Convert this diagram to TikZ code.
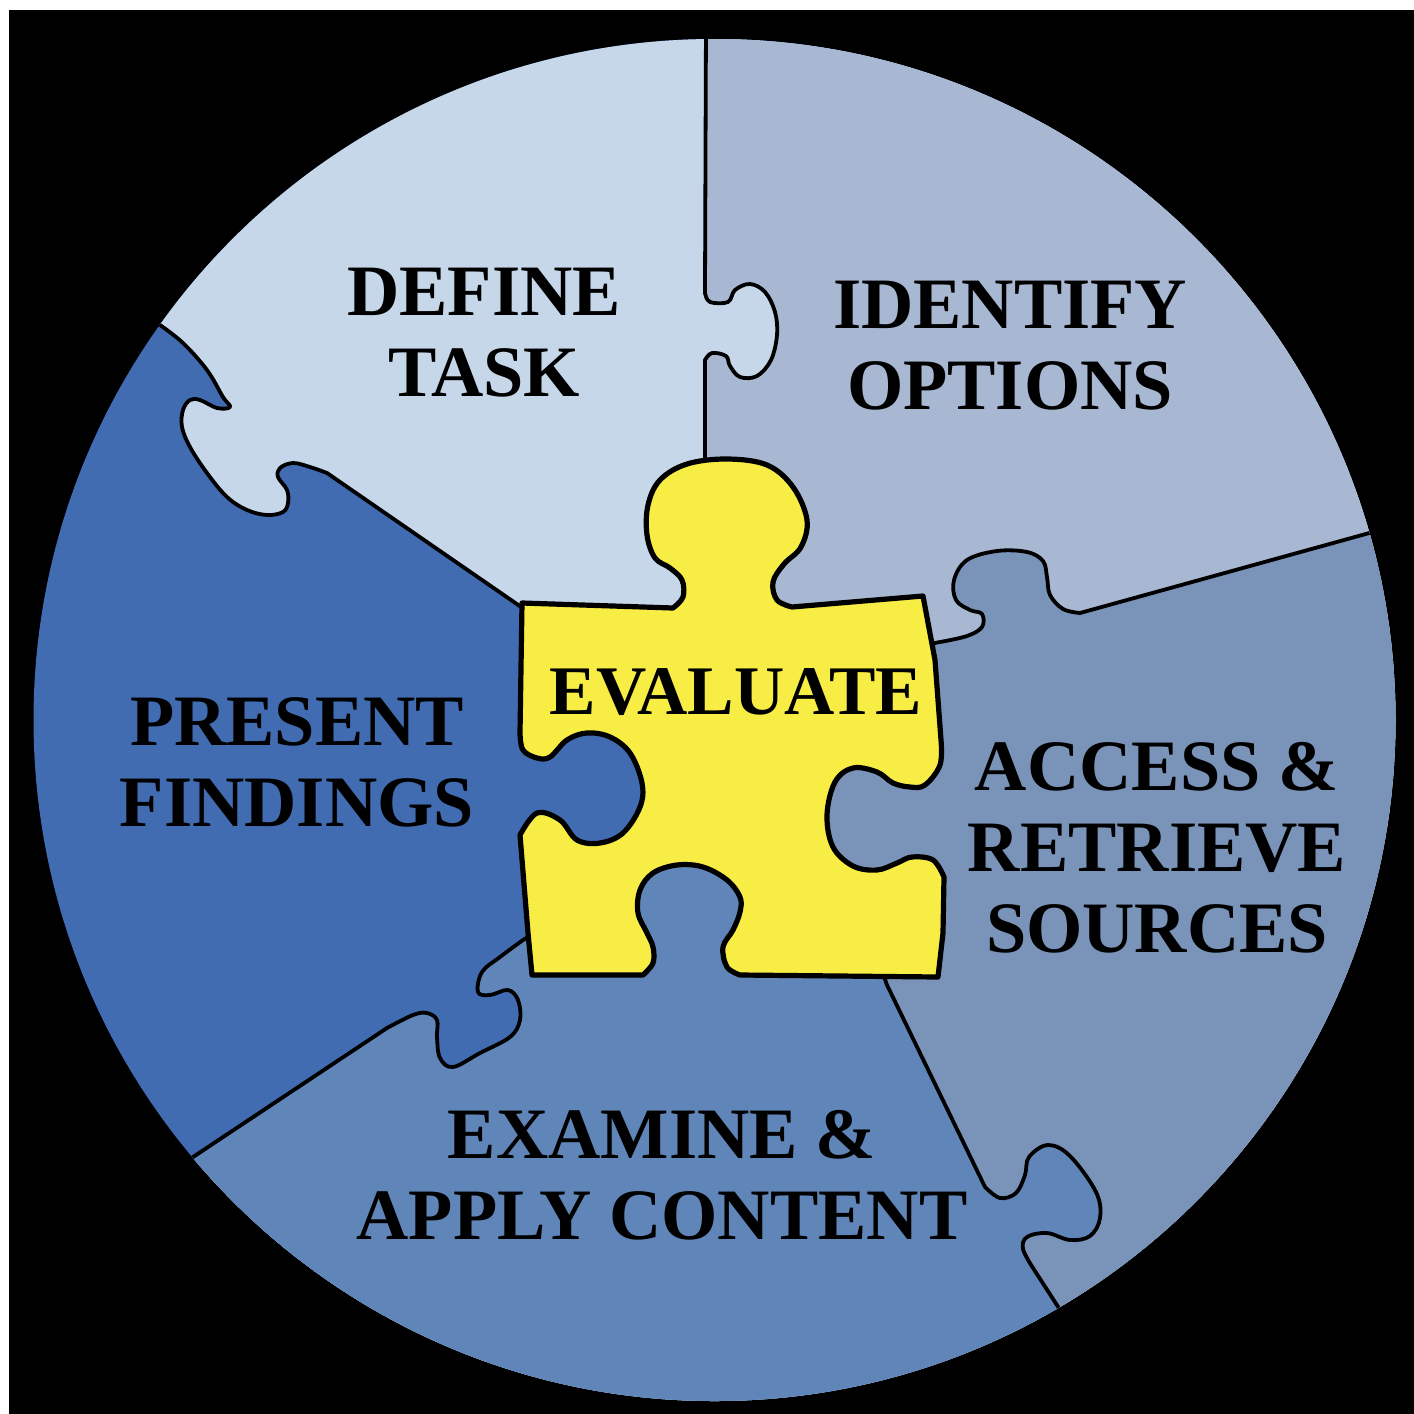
\documentclass[tikz,border=0pt]{standalone}
\usepackage{fontspec}
\setmainfont{Liberation Serif}

\definecolor{definecol}{HTML}{C6D7EA}
\definecolor{identifycol}{HTML}{A8B8D2}
\definecolor{accesscol}{HTML}{7A93B9}
\definecolor{examinecol}{HTML}{6085B8}
\definecolor{presentcol}{HTML}{416CB2}
\definecolor{evalcol}{HTML}{F8ED45}

% seams between the pieces (outer end first, EP inner end first)
\newcommand{\seamPD}{(140,309) -- plot[smooth,tension=0.6] coordinates {(160,325) (183,343) (207,370) (223,397) (230,407) (217,408) (200,400) (190,400) (183,410) (182,427) (190,447) (207,473) (227,497) (247,510) (267,515) (283,512) (288,503) (287,490) (278,477) (280,468) (293,463) (310,467) (327,473)} -- (540,620)}
\newcommand{\seamDI}{(706,20) -- (705,290) -- plot[smooth,tension=0.6] coordinates {(705,293) (710,302) (728,302) (735,290) (750,284) (765,292) (775,312) (777,335) (771,360) (757,376) (740,377) (730,366) (726,356) (712,353) (705,360)} -- (705,470)}
\newcommand{\seamIA}{(1420,519) -- plot[smooth,tension=0.6] coordinates {(1080,613) (1063,609) (1050,595) (1047,577) (1043,561) (1027,552) (997,551) (967,560) (954,580) (956,600) (970,610) (982,614) (982,627) (967,636) (940,642)} -- (925,645)}
\newcommand{\seamAE}{(1075,1333) -- plot[smooth,tension=0.6] coordinates {(1033,1268) (1023,1249) (1027,1237) (1047,1233) (1070,1240) (1090,1236) (1100,1218) (1096,1192) (1070,1156) (1048,1145) (1029,1157) (1025,1175) (1016,1193) (1000,1198) (985,1187)} -- (887,985) -- (880,965)}
\newcommand{\seamEP}{(540,930) -- plot[smooth,tension=0.6] coordinates {(523,940) (500,957) (482,972) (478,992) (490,995) (508,990) (518,1000) (520,1020) (510,1037) (480,1053) (453,1067) (440,1058) (437,1037) (437,1020) (427,1013) (413,1015) (387,1028)} -- (160,1179)}

\begin{document}
\begin{tikzpicture}[x=0.5pt,y=-0.5pt,
  seam/.style={line width=1.9pt,line join=round},
  piece/.style={fill=evalcol,draw=black,line width=2.6pt,line join=round},
  phase/.style={font=\bfseries\fontsize{36.2}{40.5}\selectfont,align=center,inner sep=0pt}]
  \useasboundingbox (0,0) rectangle (1414,1414);

  % Step 1: black square with a thin white edge
  \fill[white] (0,0) rectangle (1414,1414);
  \fill[black] (9,10) rectangle (1414,1414);

  % Step 2: the five pieces of the wheel, clipped to the circle
  \coordinate (hub) at (720,780);
  \begin{scope}
    \clip (714.5,720) circle[radius=340.5pt];
    \fill[presentcol] (714.5,720) circle[radius=340.5pt];
    \fill[definecol] \seamPD -- (hub) -- \seamEP -- (160,1450) -- (1450,1450) -- (1450,-50) -- (0,-50) -- cycle;
    \fill[identifycol] \seamDI -- (hub) -- \seamEP -- (160,1450) -- (1450,1450) -- (1450,-50) -- cycle;
    \fill[accesscol] \seamIA -- (hub) -- \seamEP -- (160,1450) -- (1450,1450) -- cycle;
    \fill[examinecol] \seamAE -- (hub) -- \seamEP -- (160,1450) -- (1100,1450) -- cycle;

    % Step 3: the seams
    \draw[seam] \seamPD;
    \draw[seam] \seamDI;
    \draw[seam] \seamIA;
    \draw[seam] \seamAE;
    \draw[seam] \seamEP;
  \end{scope}

  % Step 4: the yellow piece in the middle
  \filldraw[piece] (522,603) -- plot[smooth,tension=0.6] coordinates {(673,608) (683,597) (682,580) (670,568) (655,558) (647,535) (648,505) (660,480) (687,464) (727,459) (767,465) (793,487) (807,520) (801,547) (784,564) (773,582) (777,600) (792,607)}
    -- (923,596) -- (935,660) -- plot[smooth,tension=0.6] coordinates {(941,740) (940,765) (925,785) (910,787) (893,783) (877,772) (853,768) (835,782) (827,815) (833,847) (853,866) (877,870) (897,863) (912,857) (933,860) (944,877)}
    -- (943,933) -- (938,977) -- plot[smooth,tension=0.6] coordinates {(740,975) (727,967) (723,947) (733,930) (740,912) (740,897) (727,880) (703,867) (677,865) (653,873) (640,890) (638,913) (647,933) (653,947) (653,963) (643,975)}
    -- (532,975) -- (528,933) -- plot[smooth,tension=0.6] coordinates {(520,835) (537,813) (560,820) (577,840) (600,843) (623,833) (640,807) (642,783) (630,753) (610,737) (587,733) (567,740) (550,757) (537,758) (523,750) (520,733)}
    -- cycle;

  % Step 5: the names of the stages
  \node[phase] (define) at (484,333) {DEFINE\\TASK};
  \node[phase] (identify) at (1010,346) {IDENTIFY\\OPTIONS};
  \node[phase] (access) at (1157,848) {ACCESS \&\\RETRIEVE\\SOURCES};
  \node[phase] (examine) at (662,1175) {EXAMINE \&\\APPLY CONTENT};
  \node[phase] (present) at (297,762) {PRESENT\\FINDINGS};
  \node[phase,font=\bfseries\fontsize{34.8}{40}\selectfont] (evaluate) at (736,692) {EVALUATE};
\end{tikzpicture}
\end{document}
